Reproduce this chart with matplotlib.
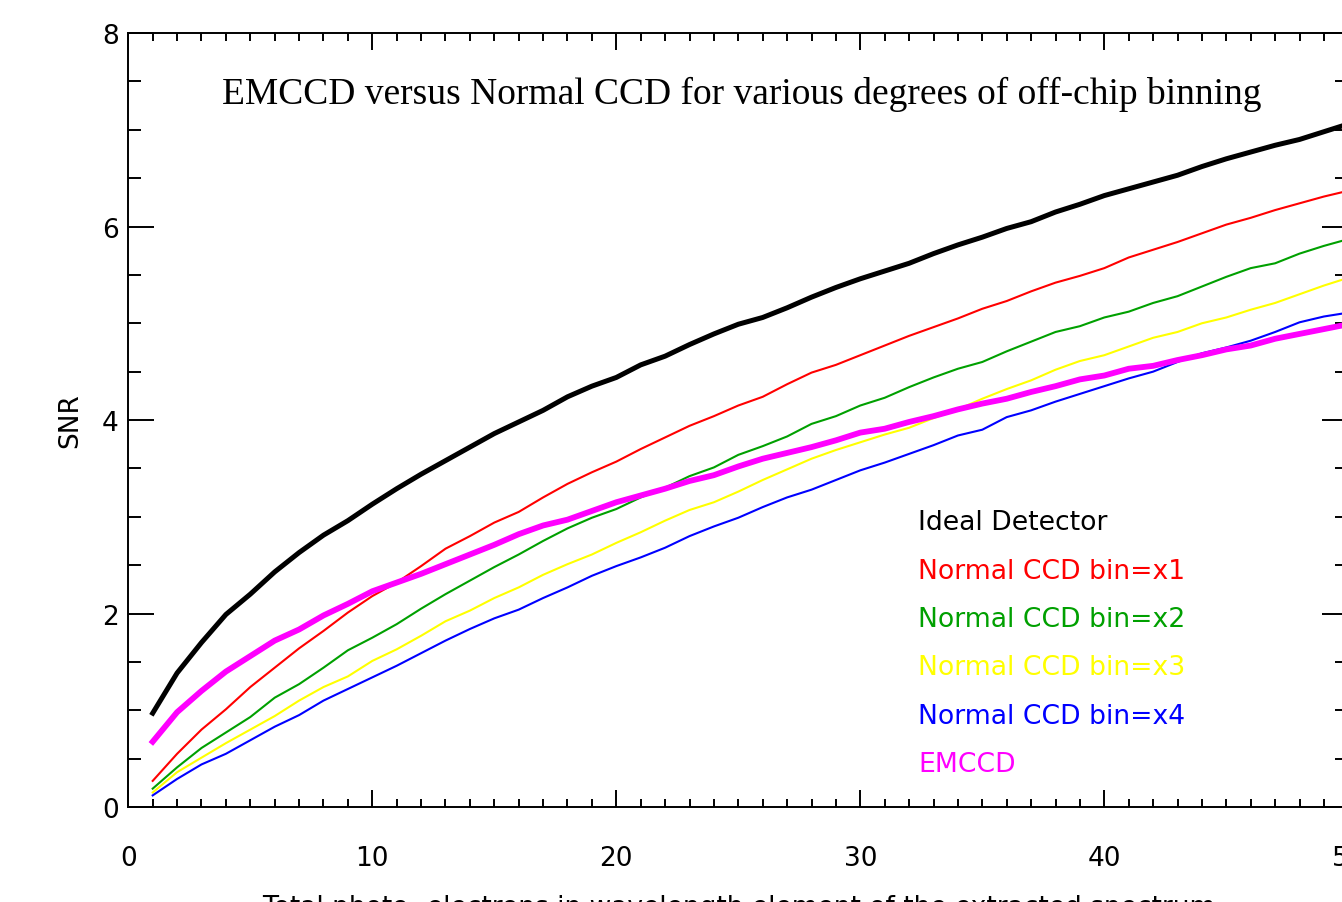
import matplotlib
matplotlib.use('Agg')
import matplotlib.pyplot as plt
from matplotlib.ticker import MultipleLocator
import numpy as np

# total photo-electrons per wavelength element
photons = np.arange(1, 51)

snr_ideal = [0.97, 1.385, 1.70, 1.99, 2.20, 2.43, 2.63, 2.81, 2.96, 3.13,
             3.29, 3.44, 3.58, 3.72, 3.86, 3.98, 4.10, 4.24, 4.35, 4.44,
             4.57, 4.66, 4.78, 4.89, 4.99, 5.06, 5.16, 5.27, 5.37, 5.46,
             5.54, 5.62, 5.72, 5.81, 5.89, 5.98, 6.05, 6.15, 6.23, 6.32,
             6.39, 6.46, 6.53, 6.62, 6.70, 6.77, 6.84, 6.90, 6.98, 7.06]

snr_bin1 = [0.27, 0.55, 0.80, 1.01, 1.24, 1.44, 1.64, 1.82, 2.01, 2.18,
            2.32, 2.49, 2.67, 2.80, 2.94, 3.05, 3.20, 3.34, 3.46, 3.57,
            3.70, 3.82, 3.94, 4.04, 4.15, 4.24, 4.37, 4.49, 4.57, 4.67,
            4.77, 4.87, 4.96, 5.05, 5.15, 5.23, 5.33, 5.42, 5.49, 5.57,
            5.68, 5.76, 5.84, 5.93, 6.02, 6.09, 6.17, 6.24, 6.31, 6.37]

snr_bin2 = [0.19, 0.41, 0.61, 0.77, 0.93, 1.13, 1.27, 1.44, 1.62, 1.75,
            1.89, 2.05, 2.20, 2.34, 2.48, 2.61, 2.75, 2.88, 2.99, 3.08,
            3.20, 3.30, 3.42, 3.51, 3.64, 3.73, 3.83, 3.96, 4.04, 4.15,
            4.23, 4.34, 4.44, 4.53, 4.60, 4.71, 4.81, 4.91, 4.97, 5.06,
            5.12, 5.21, 5.28, 5.38, 5.48, 5.57, 5.62, 5.72, 5.80, 5.87]

snr_bin3 = [0.15, 0.36, 0.51, 0.66, 0.80, 0.94, 1.10, 1.24, 1.35, 1.51,
            1.63, 1.77, 1.92, 2.03, 2.16, 2.27, 2.40, 2.51, 2.61, 2.73,
            2.84, 2.96, 3.07, 3.15, 3.26, 3.38, 3.49, 3.60, 3.69, 3.77,
            3.85, 3.92, 4.02, 4.11, 4.22, 4.32, 4.41, 4.52, 4.61, 4.67,
            4.76, 4.85, 4.91, 5.00, 5.06, 5.14, 5.21, 5.30, 5.39, 5.47]

snr_bin4 = [0.12, 0.29, 0.44, 0.55, 0.69, 0.83, 0.95, 1.10, 1.22, 1.34,
            1.46, 1.59, 1.72, 1.84, 1.95, 2.04, 2.16, 2.27, 2.39, 2.49,
            2.58, 2.68, 2.80, 2.90, 2.99, 3.10, 3.20, 3.28, 3.38, 3.48,
            3.56, 3.65, 3.74, 3.84, 3.90, 4.03, 4.10, 4.19, 4.27, 4.35,
            4.43, 4.50, 4.60, 4.69, 4.75, 4.82, 4.91, 5.01, 5.07, 5.11]

snr_emccd = [0.675, 0.98, 1.20, 1.40, 1.56, 1.72, 1.835, 1.98, 2.10, 2.23,
             2.32, 2.41, 2.51, 2.61, 2.71, 2.82, 2.91, 2.97, 3.06, 3.15,
             3.22, 3.29, 3.37, 3.43, 3.52, 3.60, 3.66, 3.72, 3.79, 3.87,
             3.91, 3.98, 4.04, 4.11, 4.17, 4.22, 4.29, 4.35, 4.42, 4.46,
             4.53, 4.56, 4.62, 4.67, 4.73, 4.77, 4.84, 4.89, 4.94, 4.99]

labels = ['Ideal Detector', 'Normal CCD bin=x1', 'Normal CCD bin=x2',
          'Normal CCD bin=x3', 'Normal CCD bin=x4', 'EMCCD']
colors = ['black', '#ff0000', '#00a000', '#ffff00', '#0000ff', '#ff00ff']
widths = [3.6, 1.5, 1.5, 1.5, 1.5, 4.2]
curves = [snr_ideal, snr_bin1, snr_bin2, snr_bin3, snr_bin4, snr_emccd]

title = 'EMCCD versus Normal CCD for various degrees of off-chip binning'
xlabel = 'Total photo- electrons in wavelength element of the extracted spectrum'


plt.rcParams['font.family'] = ['DejaVu Sans']
fig = plt.figure(figsize=(13.42, 9.03), dpi=100)
# the original is cropped on the right and bottom, so the axes runs past the figure edge
ax = fig.add_axes([0.0956, 0.1052, 0.9091, 0.8571])

# magenta drawn last so it sits on top like the original
for y, c, lw in zip(curves, colors, widths):
    ax.plot(photons, y, color=c, lw=lw, solid_joinstyle='round')

ax.set_xlim(0, 50)
ax.set_ylim(0, 8)
ax.xaxis.set_major_locator(MultipleLocator(10))
ax.xaxis.set_minor_locator(MultipleLocator(1))
ax.yaxis.set_major_locator(MultipleLocator(2))
ax.yaxis.set_minor_locator(MultipleLocator(0.5))

ax.tick_params(axis='both', which='both', direction='in', top=True, right=True,
               width=1.4, labelsize=19)
ax.tick_params(axis='x', which='major', length=12, pad=27)
ax.tick_params(axis='x', which='minor', length=6)
ax.tick_params(axis='y', which='major', length=18.5, pad=7)
ax.tick_params(axis='y', which='minor', length=9.5)
for sp in ax.spines.values():
    sp.set_linewidth(1.4)

ax.set_ylabel('SNR', fontsize=19)
ax.yaxis.set_label_coords(-0.037, 0.5)
ax.set_xlabel(xlabel, fontsize=19)
ax.xaxis.set_label_coords(0.5, -0.113)

ax.text(0.503, 0.9096, title, transform=ax.transAxes, ha='center', va='baseline',
        family='Liberation Serif', fontsize=27)

# hand placed key, coloured text only
for i, (lab, c) in enumerate(zip(labels, colors)):
    ax.text(32.36, 2.871 - 0.5 * i, lab, color=c, fontsize=19.2, va='baseline')

fig.savefig('out.png', dpi=100)
